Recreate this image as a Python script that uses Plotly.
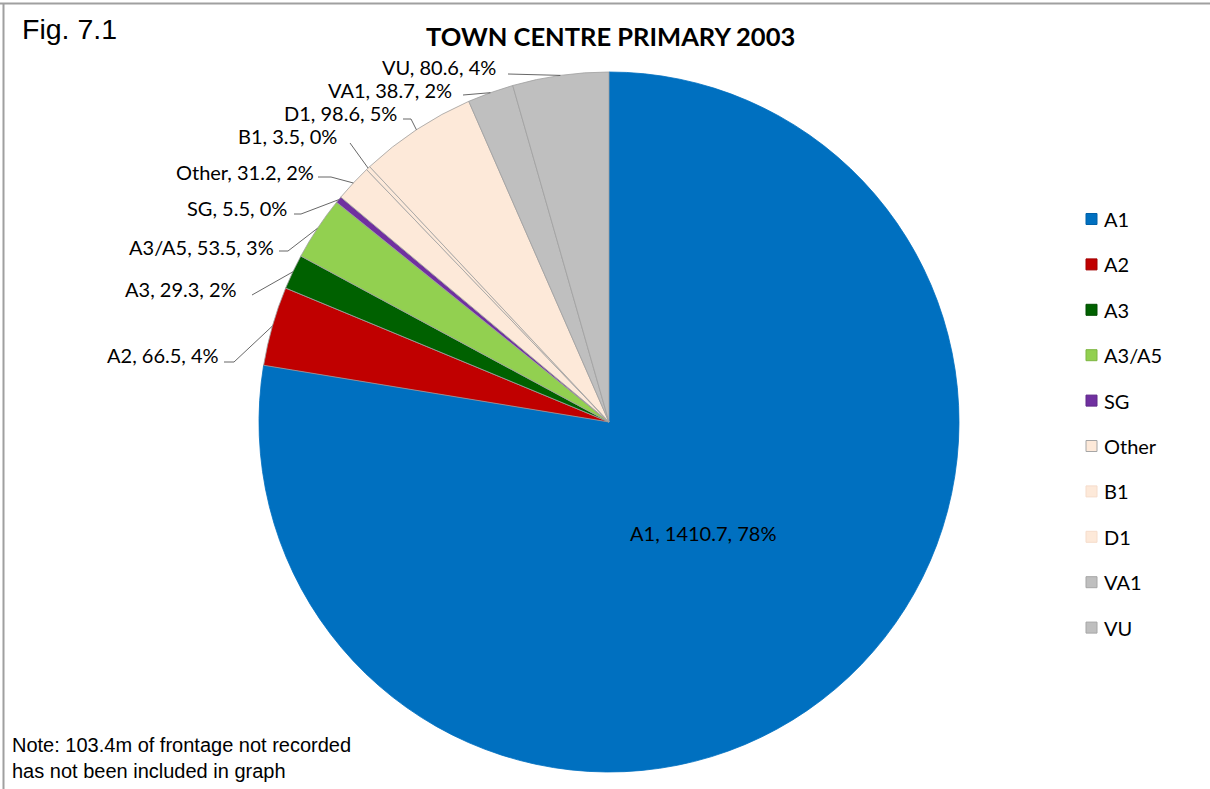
import math
import plotly.graph_objects as go

# Frontage by use class (metres)
categories = ["A1", "A2", "A3", "A3/A5", "SG", "Other", "B1", "D1", "VA1", "VU"]
frontage_m = [1410.7, 66.5, 29.3, 53.5, 5.5, 31.2, 3.5, 98.6, 38.7, 80.6]

slice_colors = ["#0070C0", "#C00000", "#006100", "#92D050", "#7030A0",
                "#FDE9D9", "#FDE9D9", "#FDE9D9", "#BFBFBF", "#BFBFBF"]
legend_edge = ["#0060A8", "#A00000", "#004D00", "#7DB540", "#5E2888",
               "#A6A6A6", "#F5DCCB", "#F5DCCB", "#A6A6A6", "#A6A6A6"]

W, H = 1210, 789
CX, CY, R = 609, 422, 350          # pie centre / radius in pixels

# outside label placement: text right edge x, text centre y, gap, drop, tick length
label_layout = {
    "A2":    (221, 355, 3, 7, 10),
    "A3":    (239, 289, 13, 6, 0),
    "A3/A5": (276, 247, 3, 4, 9),
    "SG":    (289, 208, 5, 6, 7),
    "Other": (316, 172, 2, 5, 13),
    "B1":    (339, 136, 11, 7, 0),
    "D1":    (399, 113, 4, 6, 8),
    "VA1":   (454, 90, 9, 5, 0),
    "VU":    (498, 67, 10, 7, 0),
}

LABEL_FONT = dict(family="Lato, Carlito, sans-serif", size=20, color="#000000")


def px(x):
    return x / W


def py(y):
    return 1 - y / H


total = sum(frontage_m)
pct = [round(v / total * 100) for v in frontage_m]
texts = [f"{c}, {v}, {p}%" for c, v, p in zip(categories, frontage_m, pct)]

# mid-angle of each slice, clockwise from 12 o'clock
mid_angles = []
acc = 0.0
for v in frontage_m:
    mid_angles.append((acc + v / 2) / total * 2 * math.pi)
    acc += v

fig = go.Figure(go.Pie(
    labels=categories,
    values=frontage_m,
    sort=False,
    direction="clockwise",
    rotation=0,
    textinfo="none",
    hoverinfo="label+value+percent",
    marker=dict(colors=slice_colors,
                line=dict(color=["#0070C0"] + ["#A0A0A0"] * 9, width=0.8)),
    domain=dict(x=[px(CX - R), px(CX + R)], y=[py(CY + R), py(CY - R)]),
    showlegend=False,
))

annotations = []
shapes = []

# label inside the large slice
a0 = mid_angles[0]
annotations.append(dict(
    x=px(CX + 0.415 * R * math.sin(a0)), y=py(CY - 0.415 * R * math.cos(a0)),
    xref="paper", yref="paper", text=texts[0], showarrow=False,
    font=LABEL_FONT, xanchor="center", yanchor="middle"))

# outside labels with leader lines
for i, cat in enumerate(categories):
    if cat not in label_layout:
        continue
    rx, ty, gap, drop, tick = label_layout[cat]
    annotations.append(dict(
        x=px(rx), y=py(ty), xref="paper", yref="paper", text=texts[i],
        showarrow=False, font=LABEL_FONT, xanchor="right", yanchor="middle"))
    a = mid_angles[i]
    ex, ey = CX + R * math.sin(a), CY - R * math.cos(a)
    sx, sy = rx + gap, ty + drop
    if tick > 0:
        shapes.append(dict(type="line", xref="paper", yref="paper",
                           x0=px(sx), y0=py(sy), x1=px(sx + tick), y1=py(sy),
                           line=dict(color="#404040", width=0.8)))
        sx += tick
    shapes.append(dict(type="line", xref="paper", yref="paper",
                       x0=px(sx), y0=py(sy), x1=px(ex), y1=py(ey),
                       line=dict(color="#404040", width=0.8)))

# legend drawn as swatches + text
LEG_X, LEG_Y0, LEG_DY, SW = 1086, 219, 45.4, 11
for i, cat in enumerate(categories):
    yc = LEG_Y0 + i * LEG_DY
    shapes.append(dict(type="rect", xref="paper", yref="paper",
                       x0=px(LEG_X), x1=px(LEG_X + SW),
                       y0=py(yc + SW / 2), y1=py(yc - SW / 2),
                       fillcolor=slice_colors[i],
                       line=dict(color=legend_edge[i], width=1)))
    annotations.append(dict(x=px(LEG_X + SW + 5), y=py(yc), xref="paper", yref="paper",
                            text=cat, showarrow=False, font=LABEL_FONT,
                            xanchor="left", yanchor="middle"))

# title, figure number and note
annotations.append(dict(x=px(CX + 1), y=py(36), xref="paper", yref="paper",
                        text="<b>TOWN CENTRE PRIMARY 2003</b>", showarrow=False,
                        font=dict(family="Lato, sans-serif", size=25.5, color="#000000"),
                        xanchor="center", yanchor="middle"))
annotations.append(dict(x=px(20), y=py(29), xref="paper", yref="paper",
                        text="Fig. 7.1", showarrow=False,
                        font=dict(family="Liberation Sans, Arial, sans-serif", size=28.5,
                                  color="#000000"),
                        xanchor="left", yanchor="middle"))
annotations.append(dict(x=px(10), y=py(758), xref="paper", yref="paper",
                        text="Note: 103.4m of frontage not recorded<br>has not been included in graph",
                        showarrow=False, align="left",
                        font=dict(family="Liberation Sans, Arial, sans-serif", size=20,
                                  color="#000000"),
                        xanchor="left", yanchor="middle"))

# frame lines along the top and left edges
shapes.append(dict(type="line", xref="paper", yref="paper", x0=0, x1=1,
                   y0=py(3.5), y1=py(3.5), line=dict(color="#A0A0A0", width=2)))
shapes.append(dict(type="line", xref="paper", yref="paper", x0=px(3.5), x1=px(3.5),
                   y0=0, y1=py(3), line=dict(color="#A0A0A0", width=2)))

fig.update_layout(
    width=W, height=H,
    margin=dict(l=0, r=0, t=0, b=0),
    paper_bgcolor="#FFFFFF",
    plot_bgcolor="#FFFFFF",
    annotations=annotations,
    shapes=shapes,
)

fig.write_html("out.html")
